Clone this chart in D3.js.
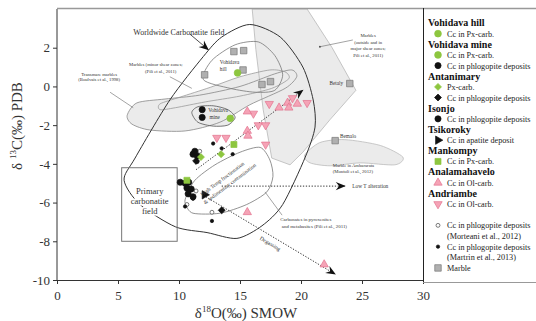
<!DOCTYPE html>
<html>
<head>
<meta charset="utf-8">
<script src="https://cdn.jsdelivr.net/npm/d3@7"></script>
<style>
  body { margin: 0; background: #fff; }
  text { font-family: "Liberation Serif", "Times New Roman", serif; }
</style>
</head>
<body>
<div id="chart"></div>
<script>
// ---- data (d18O, d13C) ----
var xTicks = [0, 5, 10, 15, 20, 25, 30];
var yTicks = [-10, -8, -6, -4, -2, 0, 2];

var vohidavaHillPx = [[14.8, 0.7]];
var vohidavaMinePx = [[14.2, -1.65]];
var vohidavaMinePhl = [[11.9, -1.2], [11.9, -1.6]];
var antanimaryPx = [[11.8, -3.65], [13.45, -3.5]];
var antanimaryPhl = [[11.4, -3.85], [13.5, -6.4]];
var isonjoPhl = [[11.15, -3.5], [11.5, -3.6], [11.3, -3.35], [10.1, -4.95], [10.5, -5.0], [10.8, -4.95],
                 [10.65, -5.25], [11.0, -5.3], [10.75, -5.55], [11.15, -5.7]];
var tsikorokyAp = [[12.1, -5.6]];
var mankompyPx = [[14.5, -3.0], [10.65, -4.85]];
var analamahaveloOl = [[15.6, -1.3], [18.2, -1.1], [18.9, -0.85], [19.0, -1.1], [19.7, -0.9],
                       [15.6, -2.3], [15.65, -2.55], [15.6, -6.5], [21.9, -9.2]];
var andriambeOl = [[16.1, -1.4], [17.4, -0.9], [19.3, -0.6], [20.5, -0.85], [16.5, -2.0], [17.1, -2.0],
                   [13.1, -2.65], [13.85, -2.65], [17.1, -3.0]];
var morteaniPhl = [[11.4, -5.4], [10.65, -6.1], [12.7, -6.5], [11.7, -3.35]];
var martrinPhl = [[12.8, -2.95], [13.5, -3.2], [14.4, -3.5], [10.5, -6.2], [12.7, -6.95], [11.15, -5.8], [11.5, -3.9]];
var marbles = [[12.1, 0.6], [14.5, 1.8], [15.3, 1.85], [15.25, 0.85], [16.8, 0.1], [17.5, 0.25], [24.0, 0.15], [22.8, -2.8]];

// fields (outlines in data units)
var worldwideField = [[5.5, -4.85], [6.4, -3.7], [9.25, -0.7], [12.0, 1.55], [13.5, 2.55], [15.8, 3.2], [18.3, 2.55],
                      [20.15, 1.0], [21.0, -0.7], [21.15, -2.1], [20.35, -3.65], [18.5, -6.1], [16.8, -7.2],
                      [14.75, -7.85], [12.3, -7.55], [9.7, -7.25], [6.8, -6.1]];
var marbleField = [[16.0, 4.0], [20.5, 4.0], [22.55, 2.0], [24.5, -0.2], [22.4, -1.7], [20.15, -3.4], [19.1, -4.05],
                   [17.6, -3.7], [16.9, -1.2], [16.3, 1.9]];
var ambararataField = [[20.3, -3.55], [21.55, -2.9], [23.6, -2.75], [26.5, -3.05], [28.35, -3.65], [27.7, -4.05],
                       [24.85, -3.95], [22.4, -4.1], [20.75, -3.95]];
var transmareField = [[5.75, -1.5], [6.55, -0.85], [8.85, -0.65], [11.7, -0.45], [15.0, 0.0], [17.85, 0.65],
                      [19.25, 0.85], [19.65, 0.5], [18.7, -0.1], [15.8, -0.95], [13.35, -1.85], [10.5, -2.3],
                      [7.6, -2.25], [6.15, -1.95]];
var shearField = [[8.45, -0.9], [10.1, -0.55], [12.55, -0.05], [15.0, 0.5], [17.45, 0.85], [18.7, 0.75], [19.0, 0.4],
                  [17.6, -0.1], [15.0, -0.5], [12.15, -0.8], [9.7, -1.1], [8.45, -1.2]];
var vohidavaHillField = [[12.0, 0.35], [12.7, 1.35], [14.6, 2.15], [16.5, 2.3], [17.85, 1.6], [18.5, 0.6],
                         [17.85, -0.2], [16.25, -0.3], [14.2, -0.1]];
var vohidavaMineField = [[11.05, -1.35], [11.55, -1.05], [12.8, -1.0], [14.0, -1.2], [14.6, -1.6], [14.0, -2.0],
                         [12.8, -2.05], [11.55, -1.85]];
var pyroxeniteField = [[10.55, -5.75], [11.3, -4.85], [12.95, -4.05], [15.0, -3.4], [16.65, -3.15], [17.45, -3.8],
                       [17.7, -4.65], [17.2, -5.45], [15.55, -6.1], [13.35, -6.55], [11.15, -6.55], [10.55, -6.1]];
var primaryBox = [5.3, 9.85, -8.0, -4.2];

// trend arrows [from, to]
var htArrow = [[11.4, -4.3], [20.15, -0.2]];
var lowTArrow = [[13.5, -5.15], [23.6, -5.15]];
var degasArrow = [[12.2, -5.7], [22.8, -9.7]];

var legendRows = [
  ["Vohidava hill", "title"], ["Cc in Px-carb.", "gcircle"],
  ["Vohidava mine", "title"], ["Cc in Px-carb.", "gcircle"], ["Cc in phlogopite deposits", "bcircle"],
  ["Antanimary", "title"], ["Px-carb.", "gdiamond"], ["Cc in phlogopite deposits", "bdiamond"],
  ["Isonjo", "title"], ["Cc in phlogopite deposits", "bcircle"],
  ["Tsikoroky", "title"], ["Cc in apatite deposit", "btri"],
  ["Mankompy", "title"], ["Cc in Px-carb.", "gsquare"],
  ["Analamahavelo", "title"], ["Cc in Ol-carb.", "ptriup"],
  ["Andriambe", "title"], ["Cc in Ol-carb.", "ptridown"],
  null,
  ["Cc in phlogopite deposits", "open"], ["(Morteani et al., 2012)", "none"],
  ["Cc in phlogopite deposits", "dot"], ["(Martrin et al., 2013)", "none"],
  ["Marble", "gray"]
];

// ---- drawing ----
var W = 536, H = 321;
var green = "#8dc63f", pink = "#f5a3b6", pinkEdge = "#e2728e", fieldFill = "#ebebeb";

var svg = d3.select("#chart").append("svg").attr("width", W).attr("height", H);

var x = d3.scaleLinear().domain([0, 30]).range([57, 423]);
var y = d3.scaleLinear().domain([-10, 4]).range([280, 9]);

var smoothPath = d3.line().x(function(d){ return x(d[0]); }).y(function(d){ return y(d[1]); })
  .curve(d3.curveCardinalClosed.tension(0.2));
var polyPath = d3.line().x(function(d){ return x(d[0]); }).y(function(d){ return y(d[1]); })
  .curve(d3.curveLinearClosed);

var defs = svg.append("defs");
defs.append("clipPath").attr("id", "plotclip").append("rect")
  .attr("x", 57).attr("y", 9).attr("width", 366).attr("height", 271);
defs.append("marker").attr("id", "head").attr("viewBox", "-12 -6 14 12")
  .attr("markerWidth", 12).attr("markerHeight", 10).attr("refX", 0).attr("refY", 0)
  .attr("orient", "auto").attr("markerUnits", "userSpaceOnUse")
  .append("path").attr("d", "M1,0 L-11,-5 L-7,0 L-11,5 Z").attr("fill", "#111");

var plot = svg.append("g").attr("clip-path", "url(#plotclip)");

// filled fields first, outlines on top so overlaps stay one grey
var fields = [
  [marbleField, polyPath, true, "#b8b8b8", 0.8],
  [ambararataField, smoothPath, true, "#bbb", 0.8],
  [transmareField, smoothPath, true, "#888", 0.8],
  [shearField, smoothPath, true, "#9a9a9a", 0.8],
  [vohidavaMineField, smoothPath, true, "#555", 0.8],
  [vohidavaHillField, smoothPath, false, "#777", 0.8],
  [pyroxeniteField, smoothPath, false, "#777", 0.8],
  [worldwideField, smoothPath, false, "#333", 1]
];
fields.forEach(function(f){
  if (f[2]) plot.append("path").attr("d", f[1](f[0])).attr("fill", fieldFill).attr("stroke", "none");
});
fields.forEach(function(f){
  plot.append("path").attr("d", f[1](f[0])).attr("fill", "none").attr("stroke", f[3]).attr("stroke-width", f[4]);
});
plot.append("rect")
  .attr("x", x(primaryBox[0])).attr("y", y(primaryBox[3]))
  .attr("width", x(primaryBox[1]) - x(primaryBox[0])).attr("height", y(primaryBox[2]) - y(primaryBox[3]))
  .attr("fill", "none").attr("stroke", "#777").attr("stroke-width", 1);

// pointer lines
var pointers = [[[4.35, -0.3], [6.25, -1.1]], [[9.25, 0.5], [11.05, -0.1]], [[24.25, 2.4], [21.55, 2.05]], [[18.45, -6.65], [17.05, -5.45]]];
pointers.forEach(function(p){
  plot.append("line").attr("x1", x(p[0][0])).attr("y1", y(p[0][1])).attr("x2", x(p[1][0])).attr("y2", y(p[1][1]))
    .attr("stroke", "#666").attr("stroke-width", 0.6);
});
plot.append("circle").attr("cx", x(21.55)).attr("cy", y(2.05)).attr("r", 0.9).attr("fill", "#444");
plot.append("line").attr("x1", x(10.9)).attr("y1", y(2.7)).attr("x2", x(12.4)).attr("y2", y(1.9))
  .attr("stroke", "#222").attr("stroke-width", 0.8).attr("marker-end", "url(#head)");

[htArrow, lowTArrow, degasArrow].forEach(function(a){
  plot.append("line").attr("x1", x(a[0][0])).attr("y1", y(a[0][1])).attr("x2", x(a[1][0])).attr("y2", y(a[1][1]))
    .attr("stroke", "#333").attr("stroke-width", 1).attr("stroke-dasharray", "1.3,1.6")
    .attr("marker-end", "url(#head)");
});

// symbols
function sym(kind) {
  var s = {
    gcircle: [d3.symbolCircle, 36, green, green, 0],
    bcircle: [d3.symbolCircle, 30, "#111", "#111", 0],
    gdiamond: [d3.symbolSquare, 24, green, green, 45],
    bdiamond: [d3.symbolSquare, 24, "#111", "#111", 45],
    btri: [d3.symbolTriangle, 30, "#111", "#111", 90],
    gsquare: [d3.symbolSquare, 36, green, green, 0],
    ptriup: [d3.symbolTriangle, 30, pink, pinkEdge, 0],
    ptridown: [d3.symbolTriangle, 30, pink, pinkEdge, 180],
    open: [d3.symbolCircle, 12, "#fff", "#444", 0],
    dot: [d3.symbolCircle, 9, "#111", "#111", 0],
    gray: [d3.symbolSquare, 42, "#b0b0b0", "#777", 0]
  };
  return s[kind];
}
function drawPoints(g, pts, kind) {
  var s = sym(kind);
  g.selectAll(null).data(pts).enter().append("path")
    .attr("d", d3.symbol().type(s[0]).size(s[1]))
    .attr("transform", function(d){ return "translate(" + x(d[0]) + "," + y(d[1]) + ") rotate(" + s[4] + ")"; })
    .attr("fill", s[2]).attr("stroke", s[3]).attr("stroke-width", 0.7);
}
drawPoints(plot, marbles, "gray");
drawPoints(plot, andriambeOl, "ptridown");
drawPoints(plot, analamahaveloOl, "ptriup");
drawPoints(plot, morteaniPhl, "open");
drawPoints(plot, martrinPhl, "dot");
drawPoints(plot, isonjoPhl, "bcircle");
drawPoints(plot, vohidavaMinePhl, "bcircle");
drawPoints(plot, antanimaryPhl, "bdiamond");
drawPoints(plot, tsikorokyAp, "btri");
drawPoints(plot, antanimaryPx, "gdiamond");
drawPoints(plot, mankompyPx, "gsquare");
drawPoints(plot, vohidavaHillPx, "gcircle");
drawPoints(plot, vohidavaMinePx, "gcircle");

// annotations
var notes = [
  ["Worldwide Carbonatite field", 6.25, 2.65, 8, "start", 0],
  ["Marbles (minor shear zones;", 8.1, 1.05, 4.7, "middle", 0],
  ["(Pili et al., 2011)", 8.5, 0.7, 4.7, "middle", 0],
  ["Transmare marbles", 3.45, 0.55, 4.7, "middle", 0],
  ["(Boulvais et al., 1998)", 3.45, 0.27, 4.7, "middle", 0],
  ["Marbles", 25.5, 2.55, 4.7, "middle", 0],
  ["(outside and in", 25.5, 2.2, 4.7, "middle", 0],
  ["major shear zones;", 25.5, 1.87, 4.7, "middle", 0],
  ["Pili et al., 2011)", 25.5, 1.52, 4.7, "middle", 0],
  ["Vohidava", 13.35, 1.15, 5.2, "start", 0],
  ["hill", 13.35, 0.8, 5.2, "start", 0],
  ["Vohidava", 12.4, -1.3, 5.2, "start", 0],
  ["mine", 12.5, -1.7, 5.2, "start", 0],
  ["Betaly", 23.45, 0.05, 5.2, "end", 0],
  ["Bemalo", 23.2, -2.65, 5.2, "start", 0],
  ["Marble in Ambararata", 22.6, -4.15, 4.7, "start", 0],
  ["(Montoli et al., 2012)", 22.6, -4.47, 4.7, "start", 0],
  ["Low T alteration", 24.2, -5.25, 5.4, "start", 0],
  ["Carbonates in pyroxenites", 20.4, -6.95, 4.9, "middle", 0],
  ["and metabasites (Pili et al., 2011)", 21.1, -7.3, 4.9, "middle", 0],
  ["Degassing", 17.4, -8.2, 5.6, "middle", 31],
  ["High Temp fractionation", 13.65, -4.85, 5.4, "middle", -37],
  ["& sedimentary contamination", 14.25, -5.1, 5.4, "middle", -37]
];
notes.forEach(function(n){
  svg.append("text").attr("transform", "translate(" + x(n[1]) + "," + y(n[2]) + ") rotate(" + n[5] + ")")
    .attr("text-anchor", n[4]).attr("font-size", n[3]).attr("fill", "#333").text(n[0]);
});
var prim = svg.append("text").attr("text-anchor", "middle").attr("font-size", 8.5).attr("fill", "#333")
  .attr("stroke", "#fff").attr("stroke-width", 3).attr("paint-order", "stroke");
["Primary", "carbonatite", "field"].forEach(function(t, i){
  prim.append("tspan").attr("x", x(7.6)).attr("y", y(-5.55) + i * 10).text(t);
});

// axes
var xa = svg.append("g").attr("transform", "translate(0,280)")
  .call(d3.axisBottom(x).tickValues(xTicks).tickSize(4).tickFormat(function(d){ return String(d); }));
var ya = svg.append("g").attr("transform", "translate(57,0)")
  .call(d3.axisLeft(y).tickValues(yTicks).tickSize(4).tickFormat(function(d){ return String(d); }));
[xa, ya].forEach(function(a){
  a.select(".domain").attr("stroke", "#333");
  a.selectAll(".tick line").attr("stroke", "#333");
  a.selectAll("text").attr("font-family", "Liberation Serif, serif").attr("font-size", 13).attr("fill", "#333");
});
ya.select(".domain").attr("d", "M0,9V280");
xa.selectAll("text").attr("dy", "1.0em");

var xl = svg.append("text").attr("x", 246).attr("y", 318).attr("text-anchor", "middle").attr("font-size", 15).attr("fill", "#333");
xl.append("tspan").text("δ");
xl.append("tspan").attr("font-size", 9).attr("dy", -6).text("18");
xl.append("tspan").attr("dy", 6).text("O(‰) SMOW");
var yl = svg.append("text").attr("transform", "translate(22,126) rotate(-90)").attr("text-anchor", "middle").attr("font-size", 15).attr("fill", "#333");
yl.append("tspan").text("δ ");
yl.append("tspan").attr("font-size", 9).attr("dy", -6).text("13");
yl.append("tspan").attr("dy", 6).text("C(‰) PDB");

// frame + legend box
svg.append("line").attr("x1", 57).attr("x2", W).attr("y1", 8.5).attr("y2", 8.5).attr("stroke", "#999").attr("stroke-width", 1.5);
svg.append("line").attr("x1", 423.5).attr("x2", 423.5).attr("y1", 8).attr("y2", 282).attr("stroke", "#222").attr("stroke-width", 1);
svg.append("line").attr("x1", 423).attr("x2", W).attr("y1", 282.5).attr("y2", 282.5).attr("stroke", "#999").attr("stroke-width", 1);

var lg = svg.append("g");
legendRows.forEach(function(r, i){
  if (!r) return;
  var cy = 23 + i * 10.65;
  if (r[1] === "title") {
    lg.append("text").attr("x", 428).attr("y", cy + 3.3).attr("font-size", 10).attr("font-weight", "bold").attr("fill", "#111").text(r[0]);
    return;
  }
  if (r[1] !== "none") drawPoints(lg, [[x.invert(438), y.invert(cy)]], r[1]);
  lg.append("text").attr("x", 447).attr("y", cy + 3).attr("font-size", 8.2).attr("fill", "#222").text(r[0]);
});
</script>
</body>
</html>
